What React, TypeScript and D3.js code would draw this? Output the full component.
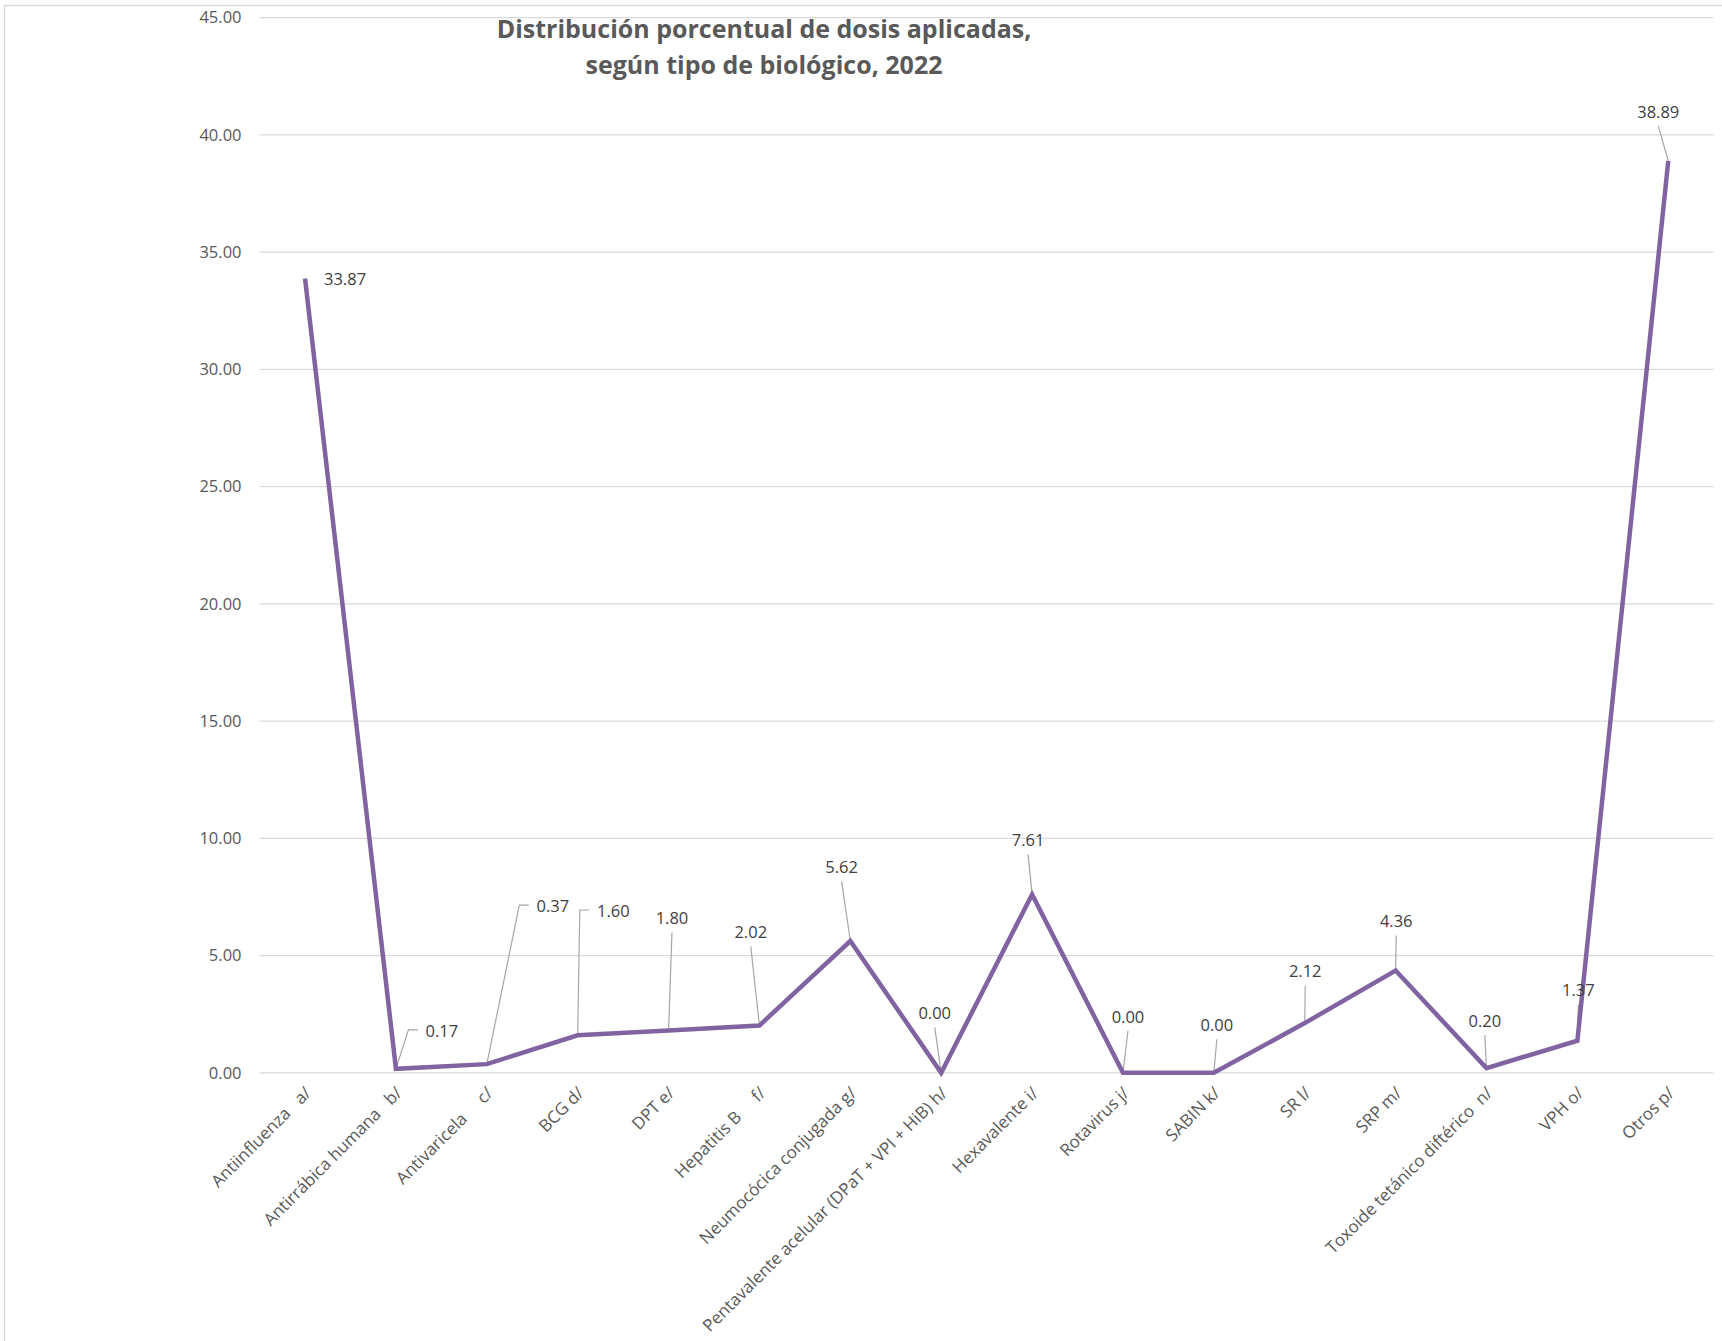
import React from "react";
import * as d3 from "d3";

const categories = [
  "Antiinfluenza   a/",
  "Antirrábica humana   b/",
  "Antivaricela     c/",
  "BCG d/",
  "DPT e/",
  "Hepatitis B     f/",
  "Neumocócica conjugada g/",
  "Pentavalente acelular (DPaT + VPI + HiB) h/",
  "Hexavalente i/",
  "Rotavirus j/",
  "SABIN k/",
  "SR l/",
  "SRP m/",
  "Toxoide tetánico diftérico  n/",
  "VPH o/",
  "Otros p/",
];

const values = [33.87, 0.17, 0.37, 1.6, 1.8, 2.02, 5.62, 0.0, 7.61, 0.0, 0.0, 2.12, 4.36, 0.2, 1.37, 38.89];

const yTicks = [0, 5, 10, 15, 20, 25, 30, 35, 40, 45];

const titleLines = ["Distribución porcentual de dosis aplicadas,", "según tipo de biológico, 2022"];

// label placement relative to point: text centre offset and leader style
const labelLayout: { dx: number; dy: number; kind: "right" | "elbow" | "above" }[] = [
  { dx: 40, dy: 1, kind: "right" },
  { dx: 46, dy: -38, kind: "elbow" },
  { dx: 66, dy: -158, kind: "elbow" },
  { dx: 35.6, dy: -124.3, kind: "elbow" },
  { dx: 3.4, dy: -112, kind: "above" },
  { dx: -8.7, dy: -93, kind: "above" },
  { dx: -8.7, dy: -73.7, kind: "above" },
  { dx: -6.5, dy: -59.5, kind: "above" },
  { dx: -4, dy: -54, kind: "above" },
  { dx: 5, dy: -56, kind: "above" },
  { dx: 3, dy: -47.5, kind: "above" },
  { dx: 0.5, dy: -51.4, kind: "above" },
  { dx: 0.6, dy: -49, kind: "above" },
  { dx: -1.7, dy: -47, kind: "above" },
  { dx: 1, dy: -50, kind: "above" },
  { dx: -10, dy: -49, kind: "above" },
];

const W = 1722;
const H = 1341;
const plotLeft = 259.6;
const plotRight = 1713.7;
const plotTop = 17.6;
const plotBottom = 1072.8;
const FONT = "'Open Sans', sans-serif";

export default function App() {
  const x = d3.scaleBand<string>().domain(categories).range([plotLeft, plotRight]).padding(0);
  const y = d3.scaleLinear().domain([0, 45]).range([plotBottom, plotTop]);
  const cx = (c: string) => (x(c) as number) + x.bandwidth() / 2;

  const pts: [number, number][] = categories.map((c, i) => [cx(c), y(values[i])]);
  const line = d3.line<[number, number]>().x((d) => d[0]).y((d) => d[1]);

  return (
    <svg width={W} height={H} style={{ position: "absolute", left: 0, top: 0, background: "#fff" }}>
      <rect x={4.5} y={5.5} width={W + 100} height={H + 100} fill="#fff" stroke="#d9d9d9" strokeWidth={1.3} />
      {yTicks.map((t) => (
        <g key={t}>
          <line x1={plotLeft} x2={plotRight} y1={y(t)} y2={y(t)} stroke="#d9d9d9" strokeWidth={1.3} />
          <text x={241.5} y={y(t)} dy="0.35em" textAnchor="end" fontFamily={FONT} fontSize={16.5} fill="#595959">
            {t.toFixed(2)}
          </text>
        </g>
      ))}
      {titleLines.map((t, i) => (
        <text key={i} x={764} y={i === 0 ? 37.5 : 73.5} textAnchor="middle" fontFamily={FONT} fontWeight={700} fontSize={25} fill="#595959">
          {t}
        </text>
      ))}
      {categories.map((c) => (
        <text
          key={c}
          transform={`translate(${cx(c) + 3},${1090}) rotate(-45)`}
          textAnchor="end"
          dy="0.35em"
          fontFamily={FONT}
          fontSize={17}
          fill="#595959"
          style={{ whiteSpace: "pre" }}
        >
          {c}
        </text>
      ))}
      {pts.map((p, i) => {
        const L = labelLayout[i];
        const tx = p[0] + L.dx;
        const ty = p[1] + L.dy;
        if (L.kind === "above") {
          return <line key={i} x1={tx} y1={ty + 14} x2={p[0]} y2={p[1]} stroke="#a6a6a6" strokeWidth={1.2} />;
        }
        if (L.kind === "elbow") {
          const left = tx - 16.5;
          return (
            <polyline
              key={i}
              points={`${p[0]},${p[1]} ${left - 17},${ty - 1} ${left - 7.5},${ty - 1}`}
              fill="none"
              stroke="#a6a6a6"
              strokeWidth={1.2}
            />
          );
        }
        return null;
      })}
      <path d={line(pts) || ""} fill="none" stroke="#8064a2" strokeWidth={4.5} strokeLinejoin="miter" />
      {pts.map((p, i) => {
        const L = labelLayout[i];
        return (
          <text key={i} x={p[0] + L.dx} y={p[1] + L.dy} dy="0.35em" textAnchor="middle" fontFamily={FONT} fontSize={16.5} fill="#404040">
            {values[i].toFixed(2)}
          </text>
        );
      })}
    </svg>
  );
}
